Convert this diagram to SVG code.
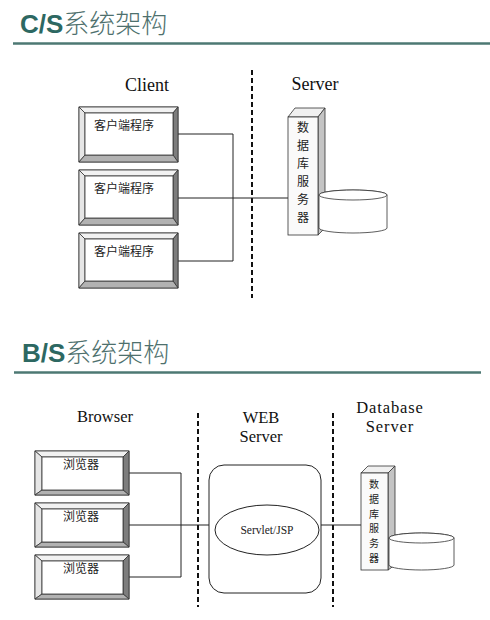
<svg xmlns="http://www.w3.org/2000/svg" width="490" height="620" viewBox="0 0 490 620">
<style>
.title{font-family:"Liberation Sans","Noto Sans CJK SC",sans-serif;font-size:26px}
.ttl-en{font-weight:bold;fill:#2d6862}
.ttl-cn{font-family:"Noto Sans CJK SC",sans-serif;font-weight:300;fill:#4e706d}
.rule{stroke:#4d7873;stroke-width:2.5}
.lbl{font-family:"Liberation Serif","Noto Sans CJK SC",serif;font-size:18px;fill:#111;text-anchor:middle}
.lbl2{font-family:"Liberation Serif",serif;font-size:16.5px;fill:#111;text-anchor:middle}
.cn{font-family:"Noto Sans CJK SC",sans-serif;font-size:12px;fill:#222}
.vt{font-family:"Noto Sans CJK SC",sans-serif;fill:#222;text-anchor:middle}
.dash{stroke:#111;stroke-width:2;stroke-dasharray:5,3;fill:none}
.conn{stroke:#222;stroke-width:1;fill:none}
.edge{stroke:#333;stroke-width:0.8}
</style>
<defs>
<g id="cbox">
<rect x="0" y="0" width="99" height="55" fill="#fff" class="edge"/>
<polygon points="0,0 99,0 94,6 6,6" fill="#f2f2f2" class="edge"/>
<polygon points="0,0 6,6 6,48 0,55" fill="#e6e6e6" class="edge"/>
<polygon points="99,0 99,55 94,48 94,6" fill="#7d7d7d" class="edge"/>
<polygon points="0,55 99,55 94,48 6,48" fill="#b2b2b2" class="edge"/>
<rect x="6" y="6" width="88" height="42" fill="#fff" class="edge"/>
</g>
<g id="bbox">
<rect x="0" y="0" width="94" height="44" fill="#fff" class="edge"/>
<polygon points="0,0 94,0 88,6 7,6" fill="#f2f2f2" class="edge"/>
<polygon points="0,0 7,6 7,39 0,44" fill="#e6e6e6" class="edge"/>
<polygon points="94,0 94,44 88,39 88,6" fill="#7d7d7d" class="edge"/>
<polygon points="0,44 94,44 88,39 7,39" fill="#b2b2b2" class="edge"/>
<rect x="7" y="6" width="81" height="33" fill="#fff" class="edge"/>
</g>
</defs>
<rect width="490" height="620" fill="#fff"/>

<!-- C/S title -->
<g id="title-cs">
<text class="title" x="20" y="33"><tspan class="ttl-en">C/S</tspan><tspan class="ttl-cn">系统架构</tspan></text>
<line class="rule" x1="13" y1="43.5" x2="490" y2="43.5"/>
</g>

<g id="cs-labels">
<text class="lbl" x="147" y="91">Client</text>
<text class="lbl" x="315" y="90">Server</text>
</g>

<g id="cs-connectors">
<line class="dash" x1="252" y1="70" x2="252" y2="298"/>
<polyline class="conn" points="178,134 233,134 233,261 178,261"/>
<line class="conn" x1="178" y1="198" x2="288" y2="198"/>
</g>

<g id="client1"><use href="#cbox" x="79" y="107"/><text class="cn" x="94" y="130">客户端程序</text></g>
<g id="client2"><use href="#cbox" x="79" y="170"/><text class="cn" x="94" y="193">客户端程序</text></g>
<g id="client3"><use href="#cbox" x="79" y="233"/><text class="cn" x="94" y="256">客户端程序</text></g>

<g id="cs-dbserver">
<polygon points="288,117 295,108 325,108 318,117" fill="#f0f0f0" class="edge"/>
<polygon points="318,117 325,108 325,228 318,235" fill="#c4c4c4" class="edge"/>
<rect x="288" y="117" width="30" height="118" fill="#fafafa" class="edge"/>
<g class="vt" font-size="12">
<text x="303" y="132">数</text><text x="303" y="150">据</text><text x="303" y="168">库</text>
<text x="303" y="186">服</text><text x="303" y="204">务</text><text x="303" y="222">器</text>
</g>
</g>
<g id="cs-db">
<path d="M319,195 L319,228 A34,5 0 0,0 387,228 L387,195 A34,5 0 0,0 319,195 Z" fill="#fff" class="edge"/>
<ellipse cx="353" cy="195" rx="34" ry="5" fill="#fff" class="edge"/>
</g>

<!-- B/S title -->
<g id="title-bs">
<text class="title" x="22" y="362"><tspan class="ttl-en">B/S</tspan><tspan class="ttl-cn">系统架构</tspan></text>
<line class="rule" x1="14" y1="372.5" x2="481" y2="372.5"/>
</g>

<g id="bs-labels">
<text class="lbl2" x="105" y="422" font-size="17">Browser</text>
<text class="lbl2" x="261" y="423">WEB</text>
<text class="lbl2" x="261" y="442">Server</text>
<text class="lbl2" x="390" y="413" font-size="14.5" letter-spacing="0.9">Database</text>
<text class="lbl2" x="390" y="432" font-size="14.5" letter-spacing="0.9">Server</text>
</g>

<g id="bs-connectors">
<line class="dash" x1="198" y1="413" x2="198" y2="607"/>
<line class="dash" x1="333" y1="413" x2="333" y2="607"/>
<polyline class="conn" points="129,473 181,473 181,577 129,577"/>
<line class="conn" x1="129" y1="525" x2="209" y2="525"/>
<line class="conn" x1="321" y1="525" x2="361" y2="525"/>
</g>

<g id="browser1"><use href="#bbox" x="35" y="451"/><text class="cn" x="63" y="469">浏览器</text></g>
<g id="browser2"><use href="#bbox" x="35" y="503"/><text class="cn" x="63" y="521">浏览器</text></g>
<g id="browser3"><use href="#bbox" x="35" y="555"/><text class="cn" x="63" y="573">浏览器</text></g>

<g id="webserver">
<rect x="209" y="465" width="112" height="128" rx="15" fill="#fff" stroke="#222" stroke-width="1"/>
<ellipse cx="267" cy="530" rx="52" ry="25" fill="#fff" stroke="#222" stroke-width="1"/>
<text x="267" y="534" font-family="Liberation Serif,serif" font-size="11.5" text-anchor="middle" fill="#222">Servlet/JSP</text>
</g>

<g id="bs-dbserver">
<polygon points="361,473 368,466 395,466 388,473" fill="#f0f0f0" class="edge"/>
<polygon points="388,473 395,466 395,565 388,570" fill="#c4c4c4" class="edge"/>
<rect x="361" y="473" width="27" height="97" fill="#fafafa" class="edge"/>
<g class="vt" font-size="10">
<text x="374" y="488">数</text><text x="374" y="503">据</text><text x="374" y="518">库</text>
<text x="374" y="532">服</text><text x="374" y="547">务</text><text x="374" y="562">器</text>
</g>
</g>
<g id="bs-db">
<path d="M389,538 L389,565 A32.5,5 0 0,0 454,565 L454,538 A32.5,5 0 0,0 389,538 Z" fill="#fff" class="edge"/>
<ellipse cx="421.5" cy="538" rx="32.5" ry="5" fill="#fff" class="edge"/>
</g>
</svg>
